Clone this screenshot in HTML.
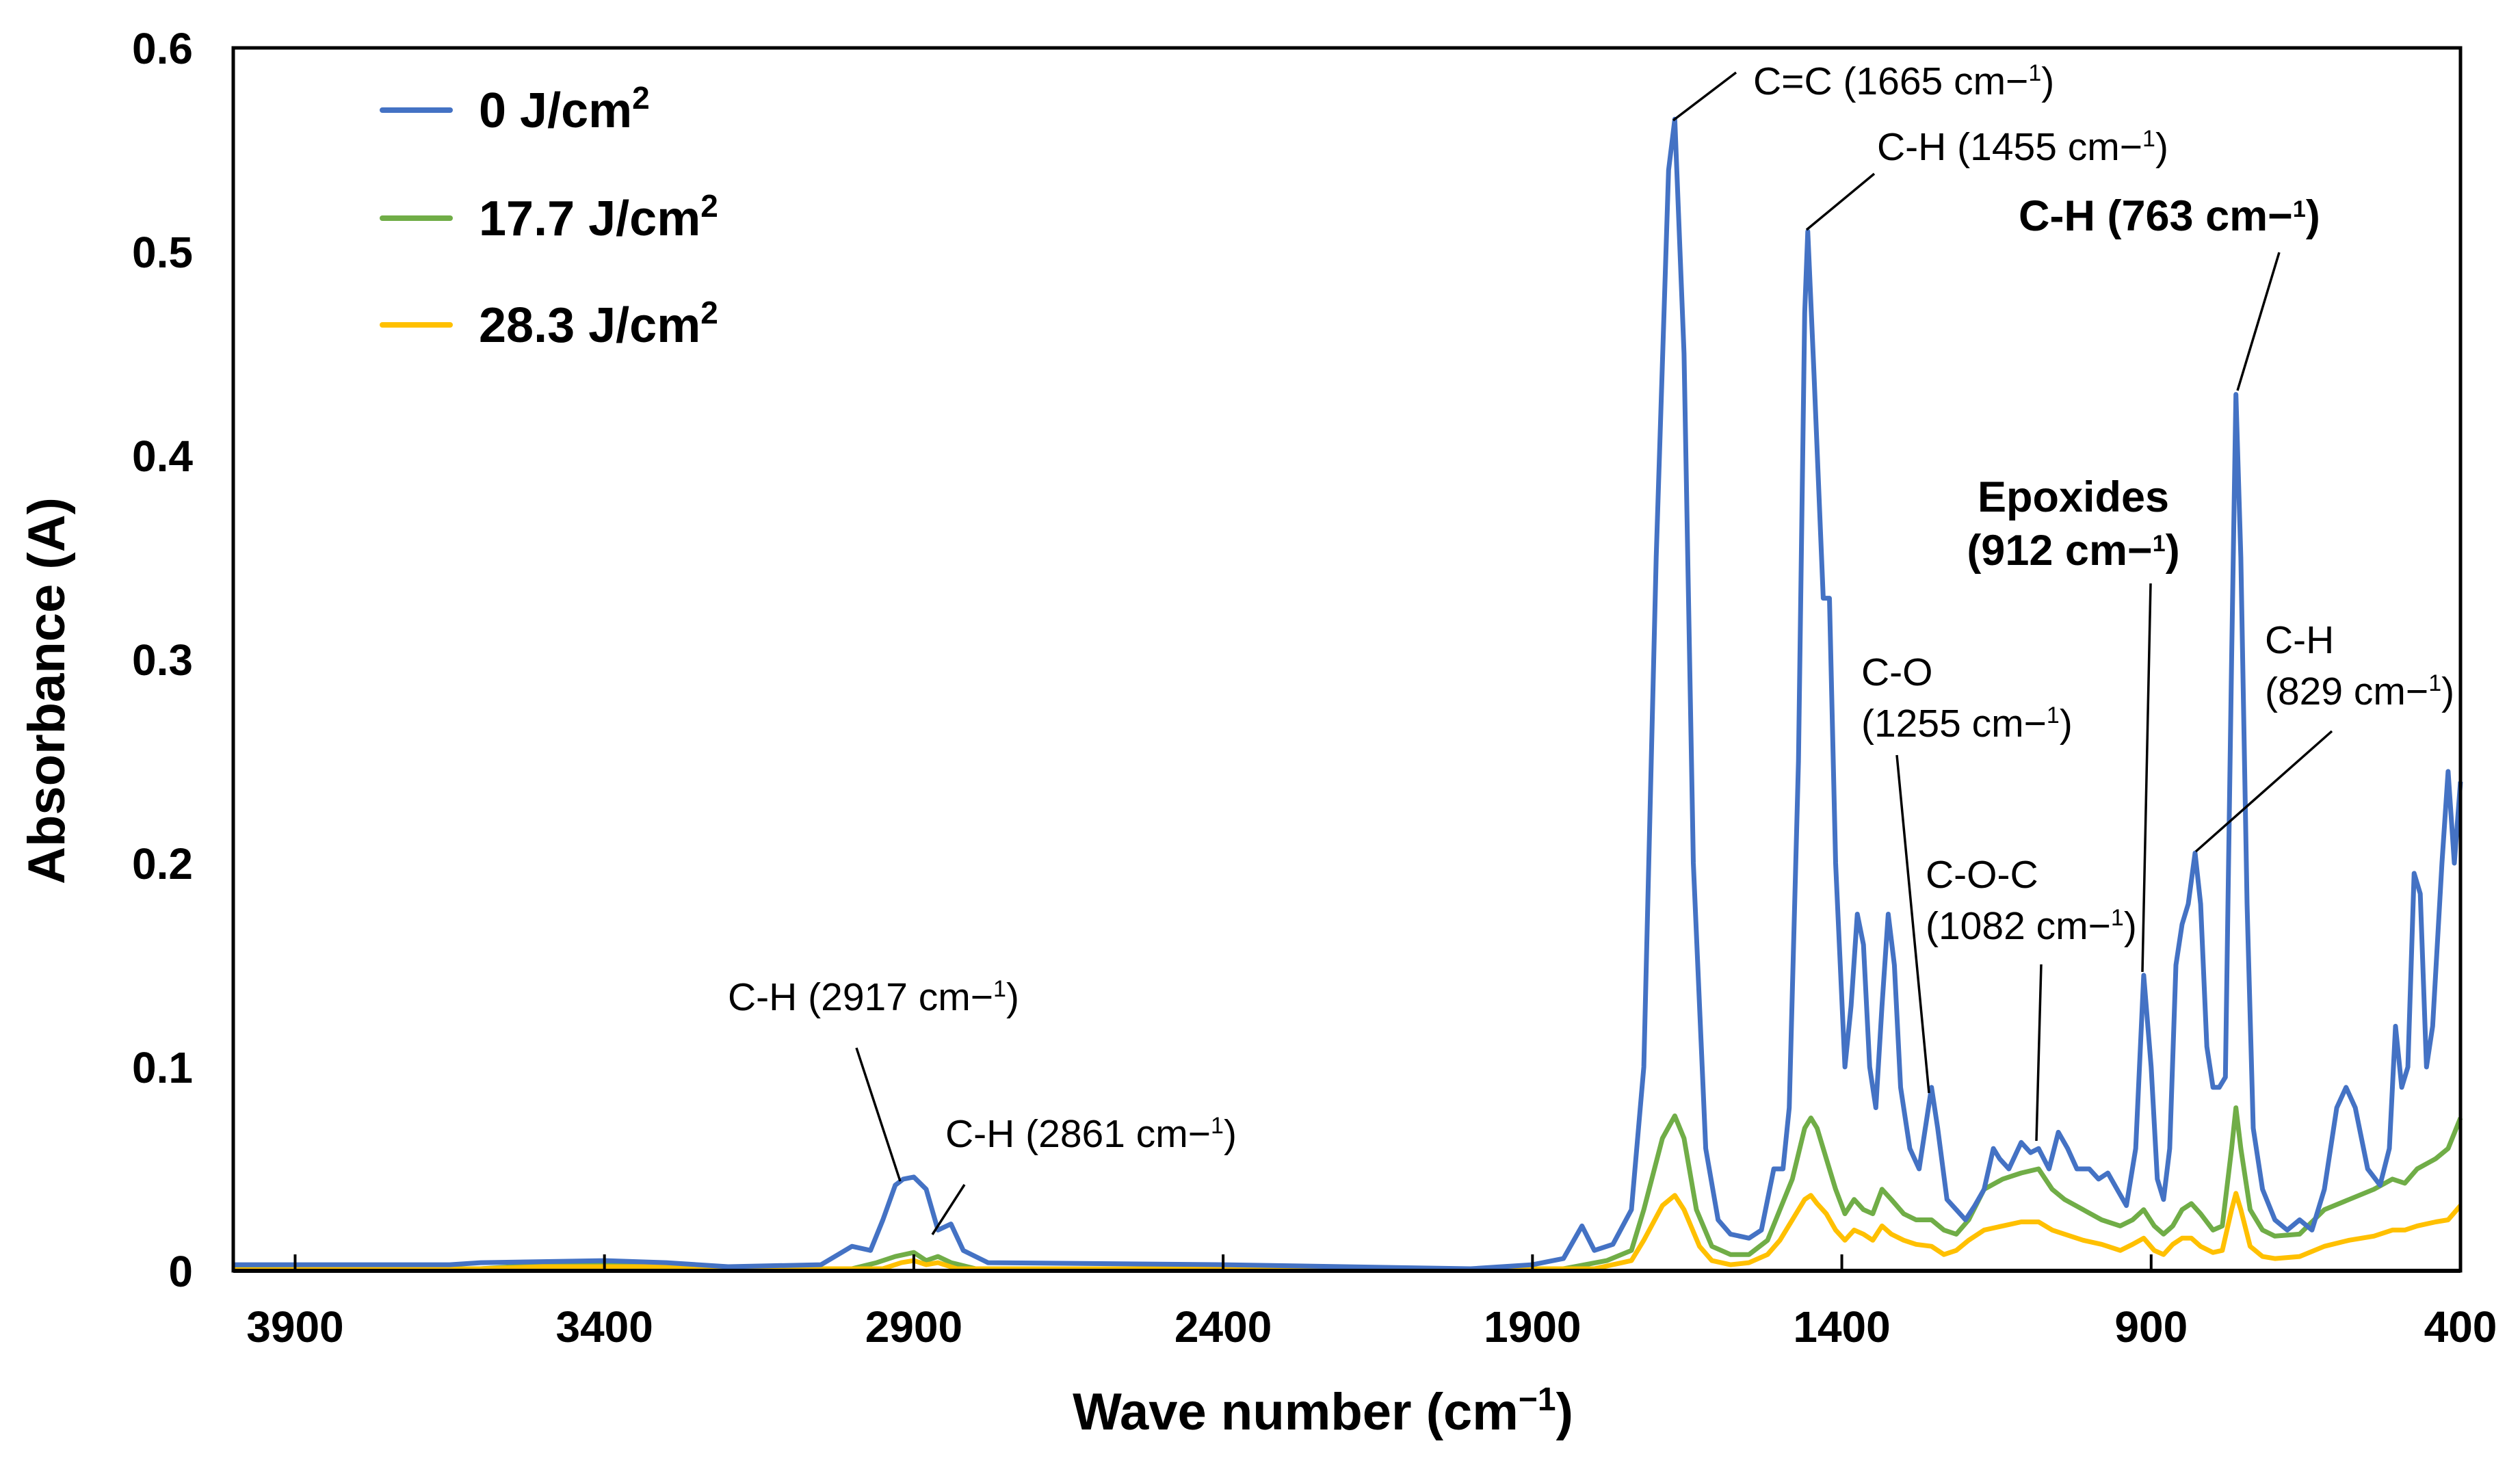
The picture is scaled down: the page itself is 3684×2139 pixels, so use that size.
<!DOCTYPE html>
<html><head><meta charset="utf-8"><style>
html,body{margin:0;padding:0;background:#fff;}
svg{display:block;font-family:"Liberation Sans",Arial,sans-serif;}
</style></head><body>
<svg id="chart" width="3684" height="2139" viewBox="0 0 3684 2139" xmlns="http://www.w3.org/2000/svg">
<rect width="3684" height="2139" fill="#fff"/>
<g id="grid"></g>
<g id="series"></g>
<g id="frame"></g>
<g id="ann"></g>
</svg>
<script>
const xTicks = [3900, 3400, 2900, 2400, 1900, 1400, 900, 400];
const yTicks = [0, 0.1, 0.2, 0.3, 0.4, 0.5, 0.6];
const yTickLabels = ["0", "0.1", "0.2", "0.3", "0.4", "0.5", "0.6"];
const seriesNames = ["0 J/cm²", "17.7 J/cm²", "28.3 J/cm²"];
const blueWn = [4000,3650,3600,3400,3300,3200,3050,3000,2970,2950,2930,2917,2900,2880,2861,2840,2820,2780,2400,2000,1900,1850,1820,1800,1770,1740,1720,1700,1680,1670,1655,1640,1620,1600,1580,1550,1530,1510,1495,1485,1470,1460,1455,1445,1430,1420,1410,1395,1385,1375,1365,1355,1345,1335,1325,1315,1305,1290,1275,1255,1245,1230,1215,1200,1185,1170,1155,1145,1130,1110,1095,1082,1065,1050,1035,1020,1000,985,970,955,940,925,912,900,890,880,870,860,850,840,829,820,810,800,790,780,770,763,755,745,735,720,700,680,660,640,620,600,585,570,550,530,515,505,495,485,475,465,455,445,430,420,410,400];
const blueA = [0.003,0.003,0.004,0.005,0.004,0.002,0.003,0.012,0.010,0.025,0.042,0.045,0.046,0.040,0.020,0.023,0.010,0.004,0.003,0.001,0.003,0.006,0.022,0.010,0.013,0.030,0.100,0.35,0.54,0.565,0.45,0.20,0.06,0.025,0.018,0.016,0.020,0.050,0.050,0.080,0.25,0.47,0.51,0.44,0.33,0.33,0.20,0.10,0.13,0.175,0.16,0.10,0.08,0.13,0.175,0.15,0.09,0.06,0.05,0.09,0.07,0.035,0.030,0.025,0.032,0.040,0.060,0.055,0.050,0.063,0.058,0.060,0.050,0.068,0.060,0.050,0.050,0.045,0.048,0.040,0.032,0.060,0.145,0.10,0.045,0.035,0.060,0.150,0.170,0.180,0.205,0.180,0.110,0.090,0.090,0.095,0.30,0.43,0.35,0.18,0.07,0.040,0.025,0.020,0.025,0.020,0.040,0.080,0.090,0.080,0.050,0.042,0.060,0.120,0.090,0.100,0.195,0.185,0.100,0.120,0.200,0.245,0.200,0.240];
const greenWn = [4000,3600,3500,3300,3200,3000,2960,2930,2900,2880,2861,2840,2800,1850,1780,1740,1720,1690,1670,1655,1635,1610,1580,1550,1520,1500,1480,1460,1450,1440,1425,1410,1395,1380,1365,1350,1335,1320,1300,1280,1255,1235,1215,1195,1170,1140,1110,1082,1060,1040,1010,980,950,930,912,895,880,865,850,835,820,800,785,770,763,755,740,720,700,660,620,580,540,510,490,470,440,420,400];
const greenA = [0.001,0.001,0.003,0.003,0.001,0.001,0.004,0.007,0.009,0.005,0.007,0.004,0.001,0.001,0.005,0.010,0.030,0.065,0.076,0.065,0.030,0.012,0.008,0.008,0.015,0.030,0.045,0.070,0.075,0.070,0.055,0.040,0.028,0.035,0.030,0.028,0.040,0.035,0.028,0.025,0.025,0.020,0.018,0.025,0.040,0.045,0.048,0.050,0.040,0.035,0.030,0.025,0.022,0.025,0.030,0.022,0.018,0.022,0.030,0.033,0.028,0.020,0.022,0.060,0.080,0.060,0.030,0.020,0.017,0.018,0.030,0.035,0.040,0.045,0.043,0.050,0.055,0.060,0.075];
const yellowWn = [4000,3600,3500,3300,3200,2950,2920,2900,2880,2861,2830,1800,1740,1720,1690,1670,1655,1630,1610,1580,1550,1520,1500,1480,1460,1450,1440,1425,1410,1395,1380,1365,1350,1335,1320,1300,1280,1255,1235,1215,1195,1170,1140,1110,1082,1060,1040,1010,980,950,930,912,895,880,865,850,835,820,800,785,770,763,755,740,720,700,660,620,580,540,510,490,470,440,420,400];
const yellowA = [0.0005,0.001,0.002,0.002,0.001,0.001,0.004,0.005,0.003,0.004,0.001,0.001,0.005,0.015,0.032,0.037,0.030,0.012,0.005,0.003,0.004,0.008,0.015,0.025,0.035,0.037,0.033,0.028,0.020,0.015,0.020,0.018,0.015,0.022,0.018,0.015,0.013,0.012,0.008,0.010,0.015,0.020,0.022,0.024,0.024,0.020,0.018,0.015,0.013,0.010,0.013,0.016,0.010,0.008,0.013,0.016,0.016,0.012,0.009,0.010,0.030,0.038,0.030,0.012,0.007,0.006,0.007,0.012,0.015,0.017,0.020,0.020,0.022,0.024,0.025,0.032];

const NS = "http://www.w3.org/2000/svg";
const L = 341, R = 3597, T = 70, B = 1858;
const X = wn => L + (4000 - wn) / 3600 * (R - L);
const Y = a => B - a / 0.6 * (B - T);
function mk(tag, attrs, parent, text) {
  const e = document.createElementNS(NS, tag);
  for (const k in attrs) e.setAttribute(k, attrs[k]);
  if (text !== undefined) e.textContent = text;
  parent.appendChild(e);
  return e;
}
const series = document.getElementById('series');
const frame = document.getElementById('frame');
const ann = document.getElementById('ann');

const defs = [[greenWn, greenA, '#70ad47', 'series-17-7'], [yellowWn, yellowA, '#ffc000', 'series-28-3'], [blueWn, blueA, '#4472c4', 'series-0']];
for (const [w, a, c, n] of defs) {
  const d = w.map((v, i) => (i ? 'L' : 'M') + X(v).toFixed(1) + ',' + Y(a[i]).toFixed(1)).join(' ');
  const p = mk('path', {d: d, fill: 'none', stroke: c, 'stroke-width': 7, 'stroke-linejoin': 'round'}, series);
  
  
}

const fr = mk('rect', {x: L, y: T, width: R - L, height: B - T, fill: 'none', stroke: '#000', 'stroke-width': 5}, frame);


const xa = mk('line', {x1: L, x2: R, y1: B, y2: B, stroke: '#000', 'stroke-width': 6}, frame);



xTicks.forEach(t => {
  const tk = mk('line', {x1: X(t), x2: X(t), y1: B, y2: B - 24, stroke: '#000', 'stroke-width': 4}, frame);
  
  
  const lb = mk('text', {x: X(t), y: 1962, 'font-size': 64, 'font-weight': 'bold', 'text-anchor': 'middle'}, frame, String(t));
  
  
});
yTicks.forEach((t, i) => {
  const lb = mk('text', {x: 282, y: Y(t) + 23, 'font-size': 64, 'font-weight': 'bold', 'text-anchor': 'end'}, frame, yTickLabels[i]);
  
  
});
const xt = mk('text', {x: 1934, y: 2090, 'font-size': 76, 'font-weight': 'bold', 'text-anchor': 'middle'}, frame);


xt.innerHTML = 'Wave number (cm<tspan font-size="48" dy="-28">−1</tspan><tspan dy="28">)</tspan>';
const yt = mk('text', {x: 0, y: 0, 'font-size': 76, 'font-weight': 'bold', 'text-anchor': 'middle', transform: 'translate(94,1010) rotate(-90)'}, frame, 'Absorbance (A)');



const legCol = ['#4472c4', '#70ad47', '#ffc000'];
const legY = [161, 319, 475];
seriesNames.forEach((n, i) => {
  const g = mk('g', {}, frame);
  
  
  mk('line', {x1: 559, x2: 658, y1: legY[i], y2: legY[i], stroke: legCol[i], 'stroke-width': 8, 'stroke-linecap': 'round'}, g);
  const base = n.replace('²', '');
  const t = mk('text', {x: 700, y: legY[i] + 25, 'font-size': 72, 'font-weight': 'bold'}, g);
  t.innerHTML = base + '<tspan font-size="46" dy="-27">2</tspan>';
});

const anns = [
  {lines: ['C=C (1665 cm', '1', ')'], x: 2563, y: 118, bold: false, l: [2446, 176, 2538, 106], name: 'annotation-c-c-1665'},
  {lines: ['C-H (1455 cm', '1', ')'], x: 2744, y: 214, bold: false, l: [2641, 336, 2740, 254], name: 'annotation-c-h-1455'},
  {lines: ['C-H (763 cm', '1', ')'], x: 2951, y: 317, bold: true, l: [3271, 571, 3332, 369], name: 'annotation-c-h-763'},
  {lines: ['C-H (2917 cm', '1', ')'], x: 1064, y: 1457, bold: false, l: [1316, 1727, 1252, 1532], name: 'annotation-c-h-2917'},
  {lines: ['C-H (2861 cm', '1', ')'], x: 1382, y: 1657, bold: false, l: [1363, 1805, 1410, 1732], name: 'annotation-c-h-2861'}
];
function supText(el, a, b, c) {
  el.innerHTML = a + '−<tspan font-size="34" dy="-20">' + b + '</tspan><tspan dy="20">' + c + '</tspan>';
}
for (const a of anns) {
  const g = mk('g', {}, ann);
  
  
  mk('line', {x1: a.l[0], y1: a.l[1], x2: a.l[2], y2: a.l[3], stroke: '#000', 'stroke-width': 3.5}, g);
  const t = mk('text', {x: a.x, y: a.y + 20, 'font-size': a.bold ? 63 : 57, 'font-weight': a.bold ? 'bold' : 'normal'}, g);
  supText(t, a.lines[0], a.lines[1], a.lines[2]);
}
const two = [
  {t1: 'Epoxides', t2: ['(912 cm', '1', ')'], x: 3031, y1: 728, y2: 806, bold: true, anchor: 'middle', l: [3132, 1421, 3144, 853], name: 'annotation-epoxides-912'},
  {t1: 'C-H', t2: ['(829 cm', '1', ')'], x: 3311, y1: 935, y2: 1010, bold: false, anchor: 'start', l: [3210, 1245, 3409, 1069], name: 'annotation-c-h-829'},
  {t1: 'C-O', t2: ['(1255 cm', '1', ')'], x: 2721, y1: 982, y2: 1057, bold: false, anchor: 'start', l: [2820, 1598, 2773, 1104], name: 'annotation-c-o-1255'},
  {t1: 'C-O-C', t2: ['(1082 cm', '1', ')'], x: 2815, y1: 1278, y2: 1353, bold: false, anchor: 'start', l: [2977, 1668, 2984, 1410], name: 'annotation-c-o-c-1082'}
];
for (const a of two) {
  const g = mk('g', {}, ann);
  
  
  mk('line', {x1: a.l[0], y1: a.l[1], x2: a.l[2], y2: a.l[3], stroke: '#000', 'stroke-width': 3.5}, g);
  const fs = a.bold ? 63 : 57, fw = a.bold ? 'bold' : 'normal';
  mk('text', {x: a.x, y: a.y1 + 20, 'font-size': fs, 'font-weight': fw, 'text-anchor': a.anchor}, g, a.t1);
  const t = mk('text', {x: a.x, y: a.y2 + 20, 'font-size': fs, 'font-weight': fw, 'text-anchor': a.anchor}, g);
  supText(t, a.t2[0], a.t2[1], a.t2[2]);
}
</script>
</body></html>
